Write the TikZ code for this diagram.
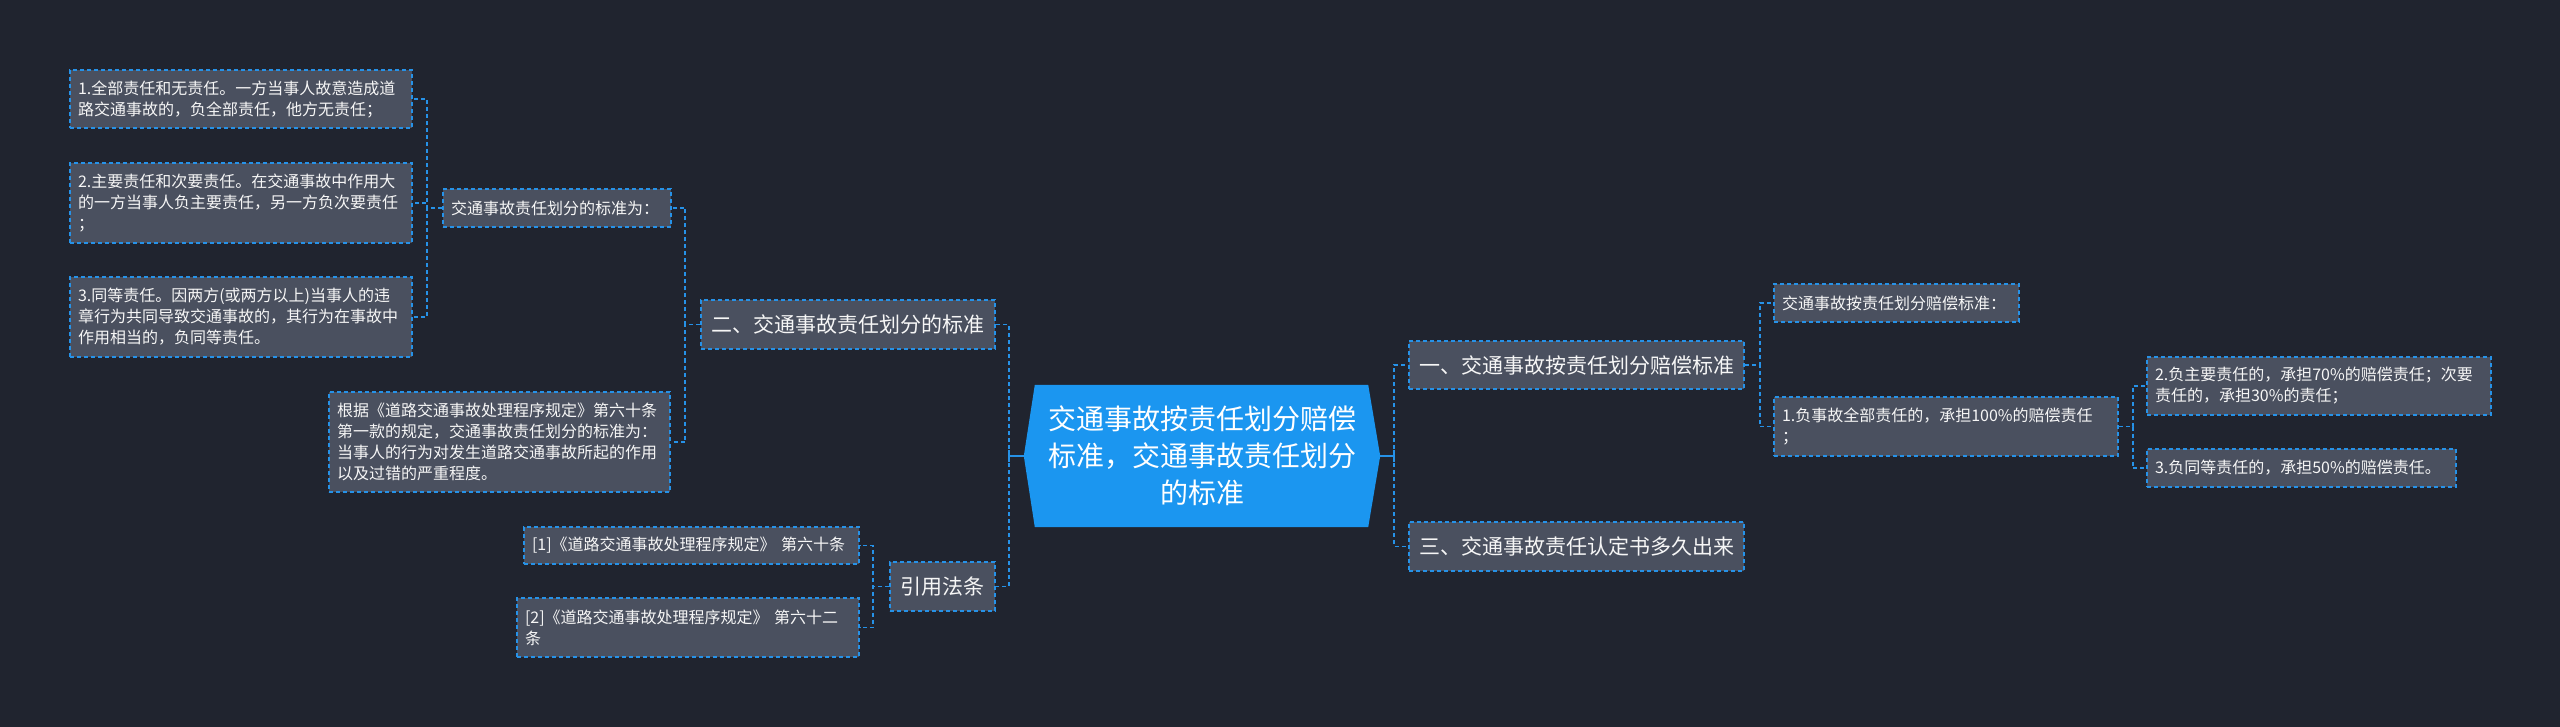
\documentclass[tikz,border=0pt]{standalone}
\usepackage{fontspec}
\setmainfont{Noto Sans CJK SC}
\usetikzlibrary{backgrounds}
\definecolor{bgc}{RGB}{32,36,47}
\definecolor{boxc}{RGB}{74,80,95}
\definecolor{lc}{RGB}{38,146,232}
\definecolor{cc}{RGB}{27,150,240}
\definecolor{txt}{RGB}{246,246,246}
\begin{document}
\begin{tikzpicture}[x=1pt,y=-1pt,
  conn/.style={draw=lc, line width=1.8pt, dash pattern=on 4pt off 3pt},
  stub/.style={draw=lc, line width=1.8pt},
  box/.style={draw=lc, fill=boxc, line width=1.6pt, dash pattern=on 4pt off 3pt, text=txt, align=left, inner xsep=8pt, inner ysep=3pt, font=\fontsize{16}{21}\selectfont},
  topic/.style={box, inner xsep=10pt, font=\fontsize{21}{26}\selectfont},
  centre/.style={text=white, align=center, text width=330pt, font=\fontsize{28}{37}\selectfont, minimum height=142pt, minimum width=356pt, inner sep=0pt}]
\useasboundingbox (0,0) rectangle (2560,727);

% centre
\node[centre] (C) at (1202,456) {交通事故按责任划分赔偿\\标准，交通事故责任划分\\的标准};

% right side
\node[topic, text width=315pt, minimum height=48pt] (N1) at (1576.5,365) {一、交通事故按责任划分赔偿标准};
\node[box, text width=229pt, minimum height=38pt] (N1a) at (1896.5,303) {交通事故按责任划分赔偿标准：};
\node[box, text width=328pt, minimum height=59pt] (N1b) at (1946,426.5) {1.负事故全部责任的，承担100\%的赔偿责任\\；};
\node[box, text width=328pt, minimum height=58pt] (N1b1) at (2319,386) {2.负主要责任的，承担70\%的赔偿责任；次要\\责任的，承担30\%的责任；};
\node[box, text width=293pt, minimum height=38pt] (N1b2) at (2301.5,468) {3.负同等责任的，承担50\%的赔偿责任。};
\node[topic, text width=315pt, minimum height=49pt] (N3) at (1576.5,546.5) {三、交通事故责任认定书多久出来};

% left side
\node[topic, text width=274pt, minimum height=49pt] (N2) at (848,324.5) {二、交通事故责任划分的标准};
\node[box, text width=212pt, minimum height=38pt] (N2a) at (557,208) {交通事故责任划分的标准为：};
\node[box, text width=326pt, minimum height=58pt] (L1) at (241,99) {1.全部责任和无责任。一方当事人故意造成道\\路交通事故的，负全部责任，他方无责任；};
\node[box, text width=326pt, minimum height=80pt] (L2) at (241,203) {2.主要责任和次要责任。在交通事故中作用大\\的一方当事人负主要责任，另一方负次要责任\\；};
\node[box, text width=326pt, minimum height=80pt] (L3) at (241,317) {3.同等责任。因两方(或两方以上)当事人的违\\章行为共同导致交通事故的，其行为在事故中\\作用相当的，负同等责任。};
\node[box, text width=325pt, minimum height=100pt] (N2b) at (499.5,442) {根据《道路交通事故处理程序规定》第六十条\\第一款的规定，交通事故责任划分的标准为：\\当事人的行为对发生道路交通事故所起的作用\\以及过错的严重程度。};
\node[topic, text width=85pt, minimum height=49pt] (N4) at (942.5,586.5) {引用法条};
\node[box, text width=319pt, minimum height=37pt] (R1) at (691.5,545.5) {[1]《道路交通事故处理程序规定》 第六十条};
\node[box, text width=326pt, minimum height=59pt] (R2) at (688,627.5) {[2]《道路交通事故处理程序规定》 第六十二\\条};

% connectors from the centre: solid stub, dashed bus
\draw[stub] (C.west) -- ++(-15,0) ++(0,-6) -- ++(0,12);
\draw[stub] (C.east) -- ++(14,0) ++(0,-6) -- ++(0,12);
\draw[conn] (C.west) ++(-15,0) |- (N2.east);
\draw[conn] (C.west) ++(-15,0) |- (N4.east);
\draw[conn] (C.east) ++(14,0) |- (N1.west);
\draw[conn] (C.east) ++(14,0) |- (N3.west);
% other connectors
\draw[conn] (N1.east) -- ++(15,0) |- (N1a.west);
\draw[conn] (N1.east) -- ++(15,0) |- (N1b.west);
\draw[conn] (N1b.east) -- ++(14,0) |- (N1b1.west);
\draw[conn] (N1b.east) -- ++(14,0) |- (N1b2.west);
\draw[conn] (N2.west) -- ++(-15,0) |- (N2a.east);
\draw[conn] (N2.west) -- ++(-15,0) |- (N2b.east);
\draw[conn] (N2a.west) -- ++(-15,0) |- (L1.east);
\draw[conn] (N2a.west) -- ++(-15,0) |- (L2.east);
\draw[conn] (N2a.west) -- ++(-15,0) |- (L3.east);
\draw[conn] (N4.west) -- ++(-16,0) |- (R1.east);
\draw[conn] (N4.west) -- ++(-16,0) |- (R2.east);

\begin{scope}[on background layer]
\fill[bgc] (0,0) rectangle (2560,727);
\fill[cc] ([xshift=11pt]C.north west) -- ([xshift=-12pt]C.north east) -- (C.east) -- ([xshift=-12pt]C.south east) -- ([xshift=11pt]C.south west) -- (C.west) -- cycle;
\end{scope}
\end{tikzpicture}
\end{document}
